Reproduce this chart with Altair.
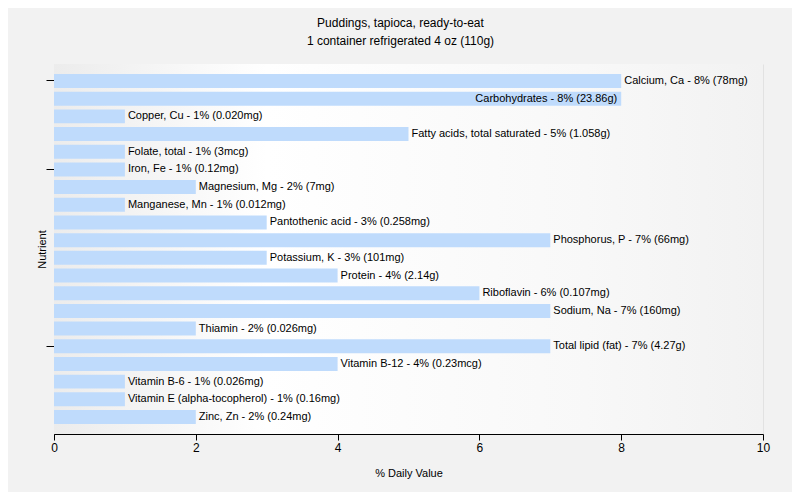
import altair as alt
import pandas as pd

nutrients = ["Calcium, Ca", "Carbohydrates", "Copper, Cu", "Fatty acids, total saturated",
             "Folate, total", "Iron, Fe", "Magnesium, Mg", "Manganese, Mn",
             "Pantothenic acid", "Phosphorus, P", "Potassium, K", "Protein",
             "Riboflavin", "Sodium, Na", "Thiamin", "Total lipid (fat)",
             "Vitamin B-12", "Vitamin B-6", "Vitamin E (alpha-tocopherol)", "Zinc, Zn"]
values = [8, 8, 1, 5, 1, 1, 2, 1, 3, 7, 3, 4, 6, 7, 2, 7, 4, 1, 1, 2]
amounts = ["78mg", "23.86g", "0.020mg", "1.058g", "3mcg", "0.12mg", "7mg", "0.012mg",
           "0.258mg", "66mg", "101mg", "2.14g", "0.107mg", "160mg", "0.026mg", "4.27g",
           "0.23mcg", "0.026mg", "0.16mg", "0.24mg"]
inside_labels = ["Carbohydrates"]
axis_tick_values = ["Calcium, Ca", "Iron, Fe", "Total lipid (fat)"]

df = pd.DataFrame({"nutrient": nutrients, "value": values, "amount": amounts})
df["label"] = [f"{n} - {v}% ({a})" for n, v, a in zip(nutrients, values, amounts)]
df["inside"] = df["nutrient"].isin(inside_labels)

W, H = 709, 370
FONT = "Liberation Sans"

y_enc = alt.Y("nutrient:N", sort=nutrients, title="Nutrient",
              scale=alt.Scale(paddingInner=0.21, paddingOuter=0.566),
              axis=alt.Axis(values=axis_tick_values, labels=False, tickColor="black",
                            domainColor="black", tickSize=8, titleFontWeight="normal",
                            titleFontSize=11, titleFont=FONT, titleColor="black",
                            titlePadding=-2, labelPadding=0, grid=False))
x_enc = alt.X("value:Q", title="% Daily Value",
              scale=alt.Scale(domain=[0, 10], nice=False),
              axis=alt.Axis(values=[0, 2, 4, 6, 8, 10], format="d", labelAlign="center",
                            labelFontSize=12, labelFont=FONT,
                            labelColor="black", tickColor="black", domainColor="black",
                            tickSize=6, grid=True, gridColor="#e2e2e2",
                            titleFontWeight="normal", titleFontSize=11, titleFont=FONT,
                            titleColor="black", titlePadding=14))

bg = alt.Chart(pd.DataFrame({"a": [0]})).mark_rect(
    color=alt.LinearGradient(gradient="linear", x1=0, y1=0, x2=1, y2=0,
                             stops=[alt.GradientStop(color="#ececec", offset=0),
                                    alt.GradientStop(color="#ffffff", offset=0.3),
                                    alt.GradientStop(color="#f8f8f8", offset=0.75),
                                    alt.GradientStop(color="#f2f2f2", offset=1)])
).encode(x=alt.value(0), x2=alt.value(W), y=alt.value(0), y2=alt.value(H))

base = alt.Chart(df)
bars = base.mark_bar(color="#bfdbfc").encode(x=x_enc, y=y_enc)
out_text = base.transform_filter("!datum.inside").mark_text(
    align="left", dx=3, font=FONT, fontSize=11, color="black").encode(
    x="value:Q", y=alt.Y("nutrient:N", sort=nutrients), text="label:N")
in_text = base.transform_filter("datum.inside").mark_text(
    align="right", dx=-4, font=FONT, fontSize=11, color="black").encode(
    x="value:Q", y=alt.Y("nutrient:N", sort=nutrients), text="label:N")

chart = alt.layer(bg, bars, out_text, in_text).properties(
    width=W, height=H,
    title=alt.Title(["Puddings, tapioca, ready-to-eat", "1 container refrigerated 4 oz (110g)"],
                    fontSize=12, font=FONT, fontWeight="normal", color="black",
                    anchor="middle", dx=-8, offset=16, lineHeight=18),
    background="#f2f2f2",
    padding={"left": 46, "top": 56, "right": 29, "bottom": 58},
    autosize=alt.AutoSizeParams(type="none"),
).configure_view(stroke=None)

chart.save("out.html", embed_options={"renderer": "svg", "actions": False})
